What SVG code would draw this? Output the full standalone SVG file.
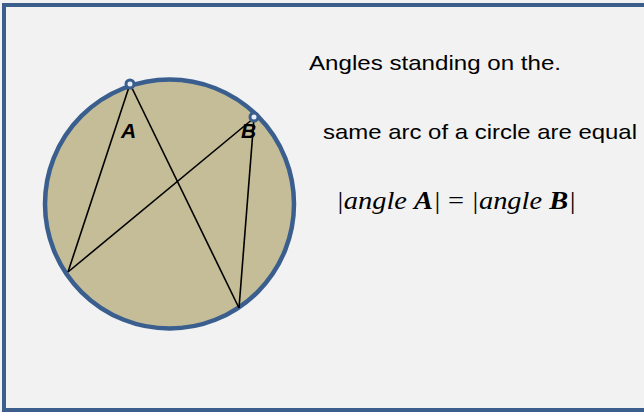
<svg xmlns="http://www.w3.org/2000/svg" width="644" height="412" viewBox="0 0 644 412">
<style>
.t{font-family:"Liberation Sans","Open Sans",sans-serif;font-size:21px;fill:#000}
.m{font-family:"Liberation Serif","DejaVu Serif",serif;font-size:25px;font-style:italic;fill:#000}
.lbl{font-family:"Liberation Sans",sans-serif;font-size:21px;font-weight:bold;font-style:italic;fill:#000}
.ln{stroke:#000;stroke-width:1.6;fill:none}
.pt{fill:#E8EEF5;stroke:#3A5F8F;stroke-width:3}
</style>
<rect x="0" y="0" width="644" height="412" fill="#F2F2F2"/>
<rect x="4" y="5" width="644" height="405" fill="#F2F2F2" stroke="#3B5E8C" stroke-width="4"/>
<g id="circle">
<circle cx="169.5" cy="204" r="124.5" fill="#C4BD97" stroke="#3A5F8F" stroke-width="4.5"/>
</g>
<g id="connectors">
<line class="ln" x1="130" y1="84" x2="68" y2="272"/>
<line class="ln" x1="130" y1="84" x2="239" y2="308"/>
<line class="ln" x1="254" y1="118" x2="68" y2="272"/>
<line class="ln" x1="254" y1="118" x2="239" y2="308"/>
</g>
<g id="pointA"><circle class="pt" cx="130" cy="84" r="4"/><text class="lbl" x="121" y="138">A</text></g>
<g id="pointB"><circle class="pt" cx="254" cy="117" r="4"/><text class="lbl" x="241" y="138">B</text></g>
<g id="text">
<text class="t" x="309" y="69.5" textLength="252" lengthAdjust="spacingAndGlyphs">Angles standing on the.</text>
<text class="t" x="323" y="138.5" textLength="314" lengthAdjust="spacingAndGlyphs">same arc of a circle are equal</text>
<text class="m" x="336" y="208.5" textLength="240" lengthAdjust="spacingAndGlyphs">|angle <tspan font-weight="bold">A</tspan>| <tspan font-style="normal">=</tspan> |angle <tspan font-weight="bold">B</tspan>|</text>
</g>
</svg>
